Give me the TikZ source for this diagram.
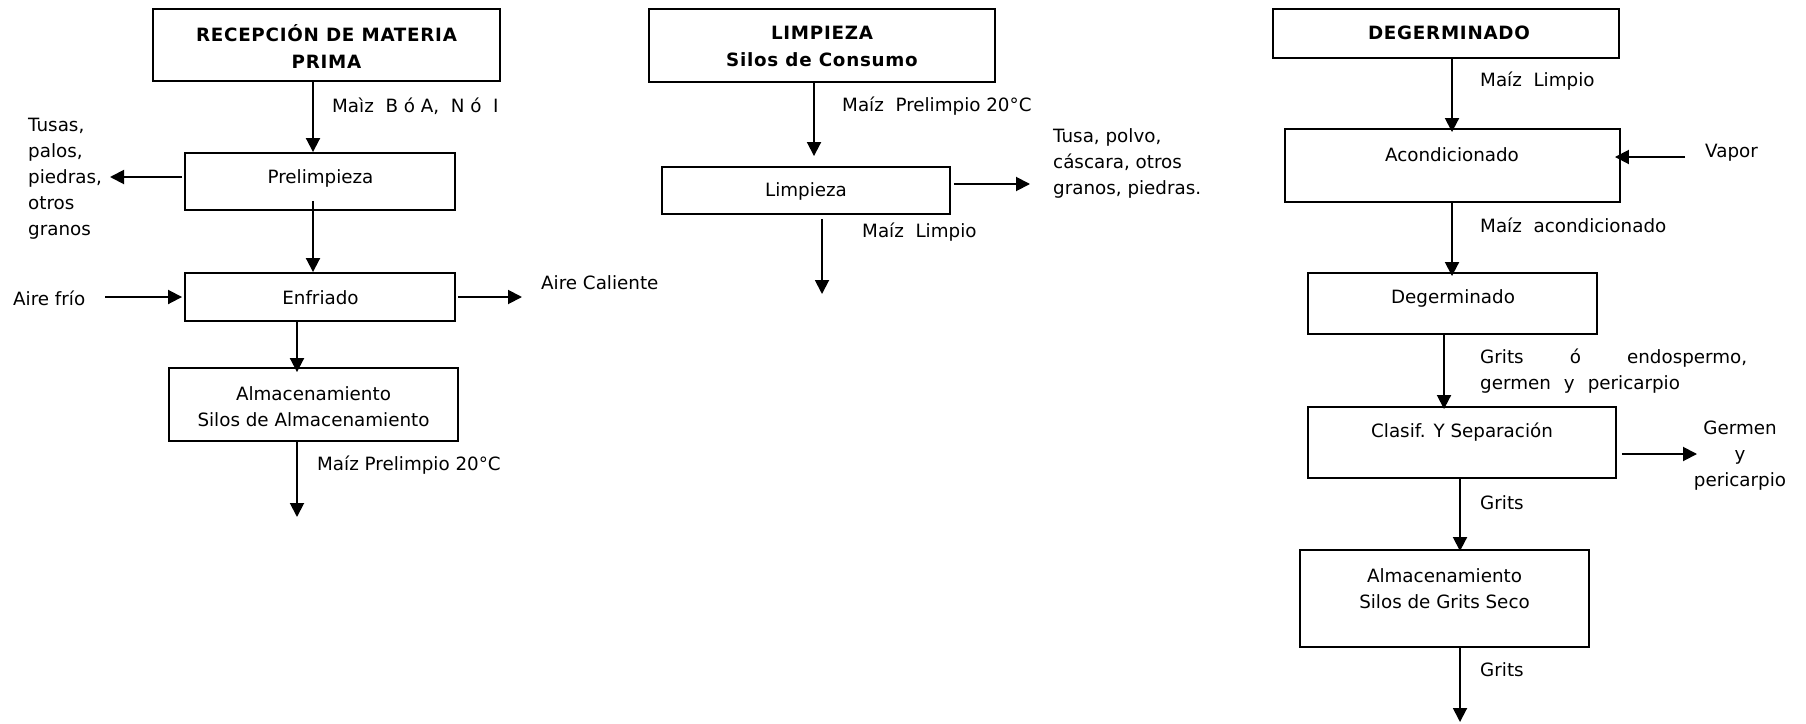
\documentclass[tikz,border=0pt]{standalone}
\usepackage{fontspec}
\setmainfont{DejaVu Sans}
\newfontfamily\hdrfont{DejaVu Sans}[LetterSpace=4]
\usetikzlibrary{arrows.meta}
\begin{document}
\begin{tikzpicture}[x=1pt,y=-1pt,
  font=\fontsize{18.3}{26}\selectfont,
  box/.style={draw, line width=1.9pt, inner sep=0pt},
  txt/.style={inner sep=0pt, align=center},
  ltxt/.style={inner sep=0pt, align=left, anchor=west},
  hdr/.style={txt, font=\fontsize{18.3}{27}\selectfont\hdrfont\bfseries},
  arr/.style={line width=1.9pt, -{Triangle[length=14pt,width=14pt]}}]
\useasboundingbox (0,0) rectangle (1806,723);

% ---------- Recepción de materia prima ----------
\node[box, minimum width=347pt, minimum height=72pt] (rec) at (326.5,45) {};
\node[hdr] (recT) at (326.5,46.5) {RECEPCIÓN DE MATERIA\\PRIMA};
\node[box, minimum width=270pt, minimum height=57pt] (pre) at (320,181.5) {};
\node[txt] (preT) at (320.5,178) {Prelimpieza};
\node[box, minimum width=270pt, minimum height=48pt] (enf) at (320,297) {};
\node[txt] (enfT) at (320.5,298) {Enfriado};
\node[box, minimum width=289pt, minimum height=73pt] (alm1) at (313.5,404.5) {};
\node[txt] (alm1T) at (313.5,407) {Almacenamiento\\Silos de Almacenamiento};

\node[ltxt] (tusas) at (28,179) {Tusas,\\palos,\\piedras,\\otros\\granos};
\node[ltxt] (airef) at (13,298) {Aire frío};
\node[ltxt] (airec) at (541,283) {Aire Caliente};
\node[ltxt] (l1) at (332,106) {Maìz\ \ B ó A,\ \ N ó\ \ I};
\node[ltxt] (l2) at (317,465) {Maíz Prelimpio 20°C};

\coordinate (tusasIn) at (110,177);
\coordinate (afStart) at (105,297);
\coordinate (acEnd) at (522,297);
\coordinate (out1) at (297,517);

\draw[arr] ([xshift=-13.5pt]rec.south) -- ([xshift=-7pt]pre.north);
\draw[arr] ([xshift=-2pt,yshift=4.5pt]pre.west) -- (tusasIn);
\draw[arr] ([xshift=-7pt,yshift=10pt]pre.south) -- ([xshift=-7pt]enf.north);
\draw[arr] (afStart) -- ([xshift=-2pt]enf.west);
\draw[arr] ([xshift=2pt]enf.east) -- (acEnd);
\draw[arr] ([xshift=-23pt]enf.south) -- ([xshift=-16.5pt,yshift=-5pt]alm1.north);
\draw[arr] ([xshift=-16.5pt]alm1.south) -- (out1);

% ---------- Limpieza ----------
\node[box, minimum width=346pt, minimum height=73pt] (limh) at (822,45.5) {};
\node[hdr] (limhT) at (822,46.5) {LIMPIEZA\\Silos de Consumo};
\node[box, minimum width=288pt, minimum height=47pt] (lim) at (806,190.5) {};
\node[txt] (limT) at (806,191) {Limpieza};

\node[ltxt] (l3) at (842,106) {Maíz\ \ Prelimpio 20°C};
\node[ltxt] (l4) at (862,232) {Maíz\ \ Limpio};
\node[ltxt] (resid) at (1053,163) {Tusa, polvo,\\cáscara, otros\\granos, piedras.};

\coordinate (residIn) at (1030,184);
\coordinate (out2) at (822,294);

\draw[arr] ([xshift=-8pt]limh.south) -- ([xshift=8pt,yshift=10pt]lim.north);
\draw[arr] ([xshift=3pt,yshift=6.5pt]lim.east) -- (residIn);
\draw[arr] ([xshift=16pt,yshift=-4pt]lim.south) -- (out2);

% ---------- Degerminado ----------
\node[box, minimum width=346pt, minimum height=49pt] (degh) at (1446,33.5) {};
\node[hdr] (deghT) at (1449,33) {DEGERMINADO};
\node[box, minimum width=335pt, minimum height=73pt] (acon) at (1452.5,165.5) {};
\node[txt] (aconT) at (1452,155) {Acondicionado};
\node[box, minimum width=289pt, minimum height=61pt] (deg) at (1452.5,303.5) {};
\node[txt] (degT) at (1453,298) {Degerminado};
\node[box, minimum width=308pt, minimum height=71pt] (clas) at (1462,442.5) {};
\node[txt] (clasT) at (1462,432) {Clasif. Y Separación};
\node[box, minimum width=289pt, minimum height=97pt] (alm2) at (1444.5,598.5) {};
\node[txt] (alm2T) at (1444.5,589) {Almacenamiento\\Silos de Grits Seco};

\node[ltxt] (l5) at (1480,81) {Maíz\ \ Limpio};
\node[ltxt] (vapor) at (1705,153) {Vapor};
\node[ltxt] (l6) at (1480,225) {Maíz\ \ acondicionado};
\node[ltxt] (l7) at (1480,371.5) {\makebox[267pt][s]{Grits ó endospermo,}\\germen\hspace{13pt}y\hspace{13pt}pericarpio};
\node[txt] (germ) at (1740,456) {Germen\\y\\pericarpio};
\node[ltxt] (l8) at (1480,503) {Grits};
\node[ltxt] (l9) at (1480,670) {Grits};

\coordinate (vapStart) at (1685,157);
\coordinate (germIn) at (1697,454);
\coordinate (out3) at (1460,722);

\draw[arr] ([xshift=6pt]degh.south) -- ([xshift=-0.5pt,yshift=-4pt]acon.north);
\draw[arr] (vapStart) -- ([xshift=-6pt,yshift=8.5pt]acon.east);
\draw[arr] ([xshift=-0.5pt]acon.south) -- ([xshift=-0.5pt,yshift=-4pt]deg.north);
\draw[arr] ([xshift=-8.5pt]deg.south) -- ([xshift=-18pt,yshift=-3pt]clas.north);
\draw[arr] ([xshift=5pt,yshift=-11.5pt]clas.east) -- (germIn);
\draw[arr] ([xshift=-2pt]clas.south) -- ([xshift=15.5pt,yshift=-2pt]alm2.north);
\draw[arr] ([xshift=15.5pt]alm2.south) -- (out3);
\end{tikzpicture}
\end{document}
